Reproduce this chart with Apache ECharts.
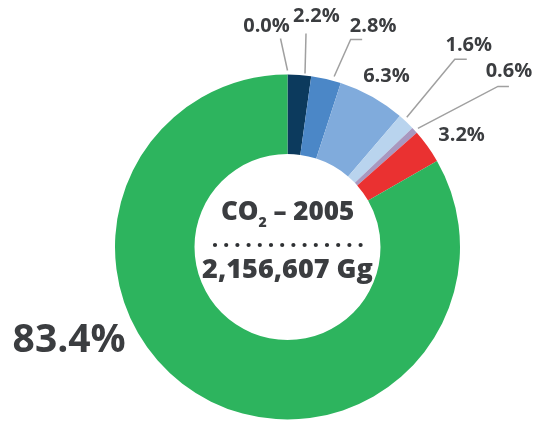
<!DOCTYPE html>
<html>
<head>
<meta charset="utf-8">
<script src="https://cdn.jsdelivr.net/npm/echarts@6/dist/echarts.min.js"></script>
<style>
html,body{margin:0;padding:0;background:#fff;}
#chart{width:553px;height:422px;}
</style>
</head>
<body>
<div id="chart"></div>
<script>
// ---- data ----
const categories = ['Cat A', 'Cat B', 'Cat C', 'Cat D', 'Cat E', 'Cat F', 'Cat G', 'Cat H'];
const shares = [0.0, 2.2, 2.8, 6.3, 1.6, 0.6, 3.2, 83.4];
const centerTotal = '2,156,607 Gg';

// ---- styling / layout config ----
const sliceColors = ['#0c3a5d', '#0c3a5d', '#4b87c7', '#80abdc', '#b9d4ee', '#a898c0', '#ea3131', '#2db45e'];
const CX = 287.5, CY = 247, R_OUT = 172.5, R_IN = 93;
const textColor = '#3b3d40';
const lineColor = '#a0a0a0';
// label placement relative to the slice's outer mid-point
const labelPlace = [
  { t: [-21, -48.5], line: [[0, -4], [-7, -36]] },
  { t: [17, -59], line: [[5.6, -1.4], [6.6, -41.4]] },
  { t: [47, -53], line: [[8, -2.4], [24.5, -39.4], [36, -39.4]] },
  { t: [14.5, -20.5] },
  { t: [62.5, -77], line: [[0.5, -4.6], [48.5, -62.6], [60.5, -62.6]] },
  { t: [94.3, -59.5], line: [[3.3, -2], [83.3, -44], [94.3, -44]] },
  { t: [34, -11.5] },
  { t: [-132, -55], fontSize: 39 }
];

const total = shares.reduce((a, b) => a + b, 0);
function outerMid(i) {
  let before = 0;
  for (let k = 0; k < i; k++) before += shares[k];
  const frac = (before + shares[i] / 2) / total;
  const ang = frac * Math.PI * 2; // clockwise from top
  return [CX + R_OUT * Math.sin(ang), CY - R_OUT * Math.cos(ang)];
}

const chart = echarts.init(document.getElementById('chart'), null, { renderer: 'canvas' });

const seriesData = categories.map((c, i) => ({
  name: c,
  value: shares[i],
  itemStyle: { color: sliceColors[i] },
  labelLine: { show: !!labelPlace[i].line }
}));

chart.setOption({
  animation: false,
  backgroundColor: '#ffffff',
  series: [{
    type: 'pie',
    center: [CX, CY],
    radius: [R_IN, R_OUT],
    startAngle: 90,
    clockwise: true,
    avoidLabelOverlap: false,
    silent: true,
    itemStyle: { borderWidth: 0 },
    label: {
      show: true,
      position: 'outside',
      formatter: p => p.value.toFixed(1) + '%',
      color: textColor,
      fontFamily: 'Open Sans',
      fontWeight: 'bold',
      fontSize: 20
    },
    labelLine: {
      show: true,
      length: 10,
      length2: 10,
      lineStyle: { color: lineColor, width: 1.5 }
    },
    labelLayout: function (params) {
      const i = params.dataIndex;
      const pl = labelPlace[i];
      const p0 = outerMid(i);
      const res = {
        x: p0[0] + pl.t[0],
        y: p0[1] + pl.t[1],
        align: 'center',
        verticalAlign: 'middle'
      };
      if (pl.fontSize) res.fontSize = pl.fontSize;
      if (pl.line) res.labelLinePoints = pl.line.map(d => [p0[0] + d[0], p0[1] + d[1]]);
      return res;
    },
    data: seriesData
  }],
  graphic: [
    {
      type: 'text',
      x: CX, y: 213,
      style: {
        text: '{m|CO}{s|2}{m| – 2005}',
        align: 'center',
        verticalAlign: 'middle',
        rich: {
          m: { fontFamily: 'Open Sans', fontWeight: 800, fontSize: 26, lineHeight: 34, fill: textColor, color: textColor },
          s: { fontFamily: 'Open Sans', fontWeight: 800, fontSize: 14, lineHeight: 12, verticalAlign: 'bottom', fill: textColor, color: textColor }
        }
      }
    },
    {
      type: 'line',
      shape: { x1: 215, y1: 245, x2: 361, y2: 245 },
      style: { stroke: '#2e3033', lineWidth: 4.2, lineDash: [0, 11.2], lineCap: 'round' }
    },
    {
      type: 'text',
      x: CX, y: 270,
      style: {
        text: centerTotal,
        align: 'center',
        verticalAlign: 'middle',
        fontFamily: 'Open Sans',
        fontWeight: 800,
        fontSize: 27,
        fill: textColor
      }
    }
  ]
});
</script>
</body>
</html>
